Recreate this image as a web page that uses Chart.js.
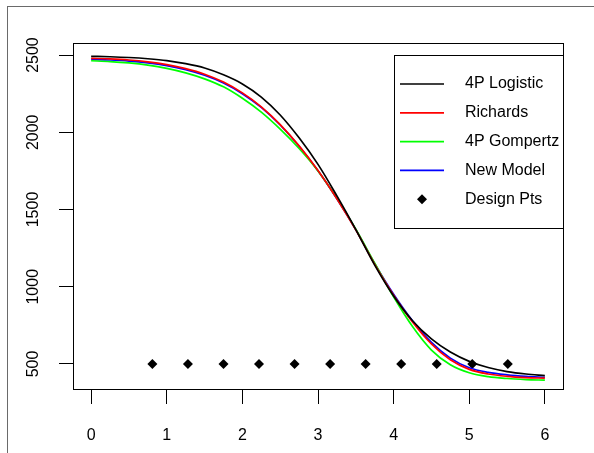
<!DOCTYPE html>
<html>
<head>
<meta charset="utf-8">
<script src="https://cdn.jsdelivr.net/npm/chart.js@4"></script>
<style>
    body { margin: 0; background: #fff; overflow: hidden; }
    #wrap { position: relative; width: 594px; height: 453px; }
    #frame { position: absolute; left: 7px; top: 6px; width: 600px; height: 460px; border: 1px solid #6a6a6a; }
    canvas { position: absolute; left: 0; top: 0; }
</style>
</head>
<body>
<div id="wrap">
    <div id="frame"></div>
    <canvas id="chartData" width="594" height="453"></canvas>
</div>
<script>
    const xs = [0, 0.25, 0.5, 0.75, 1, 1.25, 1.5, 1.75, 2, 2.25, 2.5, 2.75, 3,
        3.25, 3.5, 3.75, 4, 4.25, 4.5, 4.75, 5, 5.25, 5.5, 5.75, 6];

    const logistic4p = [2492, 2489, 2484, 2476, 2464, 2444, 2416, 2372, 2313, 2228, 2112, 1964, 1792,
        1588, 1370, 1140, 940, 780, 662, 577, 517, 477, 451, 435, 425];
    const richards = [2479, 2475, 2468, 2456, 2438, 2412, 2376, 2325, 2255, 2165, 2050, 1912, 1752,
        1570, 1368, 1145, 945, 772, 630, 527, 465, 435, 420, 412, 408];
    const gompertz4p = [2463, 2458, 2449, 2435, 2414, 2385, 2346, 2294, 2220, 2130, 2020, 1895, 1750,
        1572, 1372, 1152, 935, 742, 590, 495, 443, 418, 406, 399, 395];
    const newModel = [2472, 2468, 2461, 2449, 2431, 2405, 2369, 2319, 2250, 2161, 2047, 1910, 1751,
        1570, 1370, 1150, 952, 780, 640, 538, 476, 446, 430, 420, 414];

    const designX = [0.81, 1.28, 1.75, 2.22, 2.69, 3.16, 3.63, 4.10, 4.57, 5.04, 5.51];
    const designY = [500, 500, 500, 500, 500, 500, 500, 500, 500, 500, 500];

    const xTicks = [0, 1, 2, 3, 4, 5, 6];
    const yTicks = [500, 1000, 1500, 2000, 2500];

    const seriesNames = ['4P Logistic', 'Richards', '4P Gompertz', 'New Model', 'Design Pts'];
    const seriesColors = ['#000000', '#ff0000', '#00ff00', '#0000ff', '#000000'];

    const font = { family: 'Liberation Sans, Arial, sans-serif', size: 16 };

    function curve(ys, i) {
        return {
            label: seriesNames[i],
            data: xs.map((x, k) => ({ x: x, y: ys[k] })),
            showLine: true,
            borderColor: seriesColors[i],
            backgroundColor: seriesColors[i],
            borderWidth: 1.7,
            pointRadius: 0,
            cubicInterpolationMode: 'monotone',
        };
    }

    // box round the plot and the legend inside it, R style
    const boxAndLegend = {
        id: 'boxAndLegend',
        afterDraw(chart) {
            const { ctx, chartArea: a } = chart;
            ctx.save();
            ctx.strokeStyle = '#000';
            ctx.lineWidth = 1;
            ctx.strokeRect(a.left + 0.5, a.top + 0.5, a.right - a.left, a.bottom - a.top);

            const w = 169, h = 173;
            const left = a.right - w, top = a.top + 12;
            ctx.fillStyle = '#fff';
            ctx.fillRect(left, top, w, h);
            ctx.strokeRect(left + 0.5, top + 0.5, w, h);

            ctx.font = `${font.size}px ${font.family}`;
            ctx.textBaseline = 'middle';
            chart.data.datasets.forEach((ds, i) => {
                const y = top + 29 + i * 28.8;
                if (ds.showLine) {
                    ctx.strokeStyle = ds.borderColor;
                    ctx.lineWidth = 1.7;
                    ctx.beginPath();
                    ctx.moveTo(left + 6, y);
                    ctx.lineTo(left + 50, y);
                    ctx.stroke();
                } else {
                    ctx.fillStyle = ds.backgroundColor;
                    ctx.beginPath();
                    ctx.moveTo(left + 28, y - 5);
                    ctx.lineTo(left + 33, y);
                    ctx.lineTo(left + 28, y + 5);
                    ctx.lineTo(left + 23, y);
                    ctx.closePath();
                    ctx.fill();
                }
                ctx.fillStyle = '#000';
                ctx.fillText(ds.label, left + 71, y);
            });
            ctx.restore();
        }
    };

    const ctx = document.getElementById('chartData');

    new Chart(ctx, {
        type: 'scatter',
        data: {
            datasets: [
                curve(logistic4p, 0),
                curve(richards, 1),
                curve(gompertz4p, 2),
                curve(newModel, 3),
                {
                    label: seriesNames[4],
                    data: designX.map((x, k) => ({ x: x, y: designY[k] })),
                    showLine: false,
                    pointStyle: 'rectRot',
                    pointRadius: 5,
                    backgroundColor: seriesColors[4],
                    borderColor: seriesColors[4],
                    borderWidth: 0,
                }
            ]
        },
        options: {
            responsive: false,
            animation: false,
            layout: { padding: { top: 43, right: 31, left: 0, bottom: 0 } },
            plugins: {
                legend: { display: false },
                tooltip: { enabled: false },
            },
            scales: {
                x: {
                    type: 'linear',
                    min: -0.24,
                    max: 6.24,
                    afterBuildTicks: (scale) => { scale.ticks = xTicks.map(v => ({ value: v })); },
                    afterFit: (scale) => { scale.height = 64; },
                    grid: { drawOnChartArea: false, tickLength: 15, color: '#000', lineWidth: 1 },
                    border: { display: true, color: '#000', width: 1 },
                    ticks: { color: '#000', font: font, padding: 22, maxRotation: 0, callback: v => String(v) },
                },
                y: {
                    type: 'linear',
                    min: 338,
                    max: 2578,
                    afterBuildTicks: (scale) => { scale.ticks = yTicks.map(v => ({ value: v })); },
                    afterFit: (scale) => { scale.width = 73; },
                    grid: { drawOnChartArea: false, tickLength: 14, color: '#000', lineWidth: 1 },
                    border: { display: true, color: '#000', width: 1 },
                    ticks: { color: '#000', font: font, padding: 8, minRotation: 90, maxRotation: 90, crossAlign: 'center', callback: v => String(v) },
                }
            }
        },
        plugins: [boxAndLegend]
    });
</script>
</body>
</html>
